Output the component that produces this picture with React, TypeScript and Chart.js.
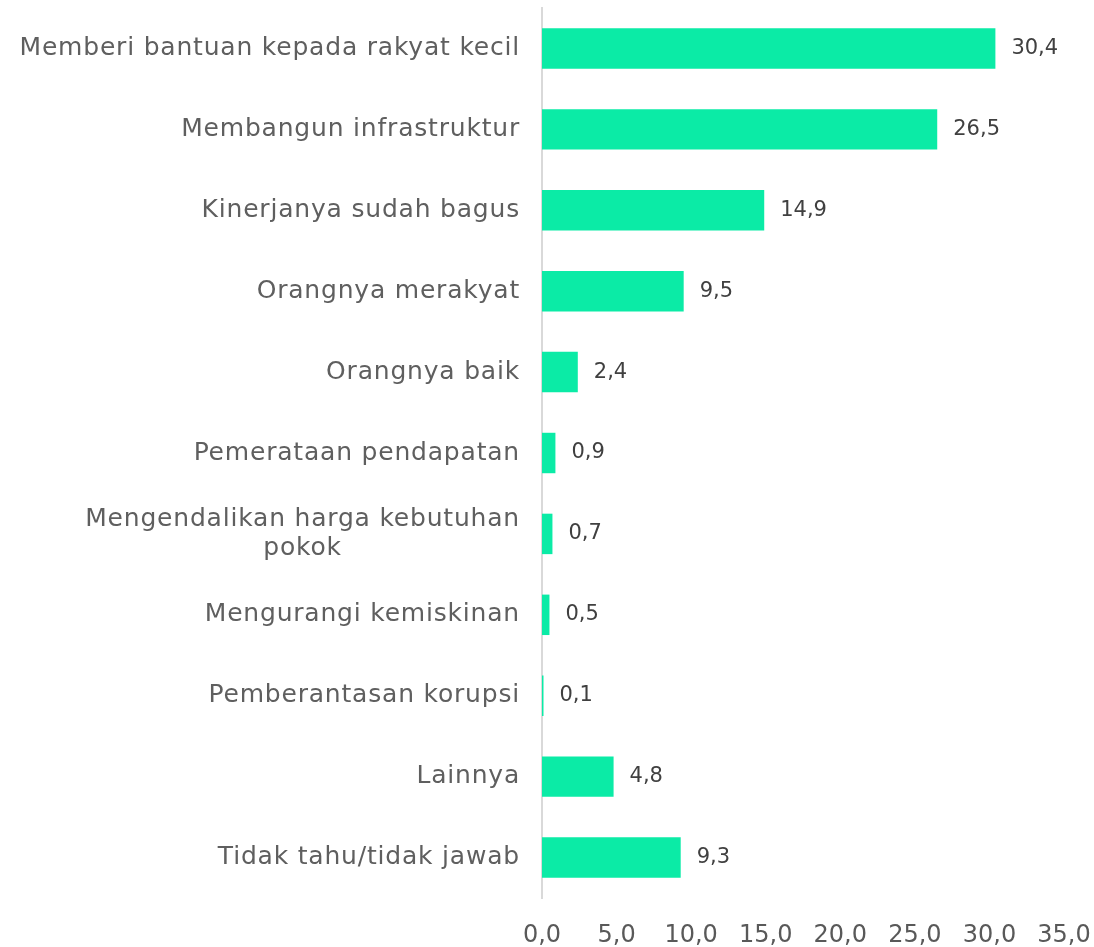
import React, { useEffect, useRef } from "react";
import { Chart, registerables } from "chart.js";

Chart.register(...registerables);

const categories: (string | string[])[] = [
  "Memberi bantuan kepada rakyat kecil",
  "Membangun infrastruktur",
  "Kinerjanya sudah bagus",
  "Orangnya merakyat",
  "Orangnya baik",
  "Pemerataan pendapatan",
  ["Mengendalikan harga kebutuhan", "pokok"],
  "Mengurangi kemiskinan",
  "Pemberantasan korupsi",
  "Lainnya",
  "Tidak tahu/tidak jawab",
];

const values: number[] = [30.4, 26.5, 14.9, 9.5, 2.4, 0.9, 0.7, 0.5, 0.1, 4.8, 9.3];

const xMin = 0;
const xMax = 35;
const xStep = 5;

const FONT = "'DejaVu Sans', sans-serif";
const fmt = (v: number) => v.toFixed(1).replace(".", ",");

const labelsPlugin = {
  id: "customLabels",
  afterDraw(chart: any) {
    const ctx = chart.ctx;
    const yScale = chart.scales.y;
    const xScale = chart.scales.x;
    ctx.save();
    // category labels
    ctx.font = `25px ${FONT}`;
    (ctx as any).letterSpacing = "0.8px";
    ctx.fillStyle = "#5f5f5f";
    ctx.textBaseline = "middle";
    ctx.textAlign = "center";
    const right = xScale.left - 22;
    const lineH = 29;
    categories.forEach((lab, i) => {
      const lines = Array.isArray(lab) ? lab : [lab];
      const w = Math.max(...lines.map((l) => ctx.measureText(l).width));
      const cx = right - w / 2;
      const cy = yScale.getPixelForTick(i);
      const start = cy - ((lines.length - 1) * lineH) / 2;
      lines.forEach((l, j) => ctx.fillText(l, cx, start + j * lineH));
    });
    // data labels
    (ctx as any).letterSpacing = "0px";
    const meta = chart.getDatasetMeta(0);
    ctx.font = `21px ${FONT}`;
    ctx.fillStyle = "#404040";
    ctx.textAlign = "left";
    meta.data.forEach((bar: any, i: number) => {
      ctx.fillText(fmt(values[i]), bar.x + 16, bar.y);
    });
    ctx.restore();
  },
};

export default function App() {
  const ref = useRef<HTMLCanvasElement | null>(null);
  useEffect(() => {
    if (!ref.current) return;
    const chart = new Chart(ref.current, {
      type: "bar",
      data: {
        labels: categories as any,
        datasets: [
          {
            data: values,
            backgroundColor: "#0BEBA6",
            borderWidth: 0,
            categoryPercentage: 1,
            barPercentage: 0.5,
          },
        ],
      },
      options: {
        indexAxis: "y",
        animation: false,
        responsive: false,
        maintainAspectRatio: false,
        layout: { padding: { top: 8, right: 30, left: 0, bottom: 0 } },
        plugins: { legend: { display: false }, tooltip: { enabled: false } },
        scales: {
          x: {
            min: xMin,
            max: xMax,
            ticks: {
              stepSize: xStep,
              color: "#595959",
              font: { family: FONT, size: 24 },
              padding: 23,
              callback: (v: any) => fmt(Number(v)),
              maxRotation: 0,
            },
            grid: { display: false, drawTicks: false },
            border: { display: false },
            afterFit: (s: any) => {
              s.height = 49;
              s.paddingLeft = 0;
              s.paddingRight = 0;
            },
          },
          y: {
            ticks: { display: false },
            grid: { display: false, drawTicks: false },
            border: { display: true, color: "#D9D9D9", width: 2 },
            afterFit: (s: any) => {
              s.width = 542;
              s.paddingTop = 0;
              s.paddingBottom = 0;
            },
          },
        },
      },
      plugins: [labelsPlugin],
    });
    return () => chart.destroy();
  }, []);
  return (
    <div style={{ position: "absolute", left: 0, top: 0, width: 1094, height: 947, background: "#fff" }}>
      <canvas ref={ref} width={1094} height={947} style={{ width: 1094, height: 947 }} />
    </div>
  );
}
